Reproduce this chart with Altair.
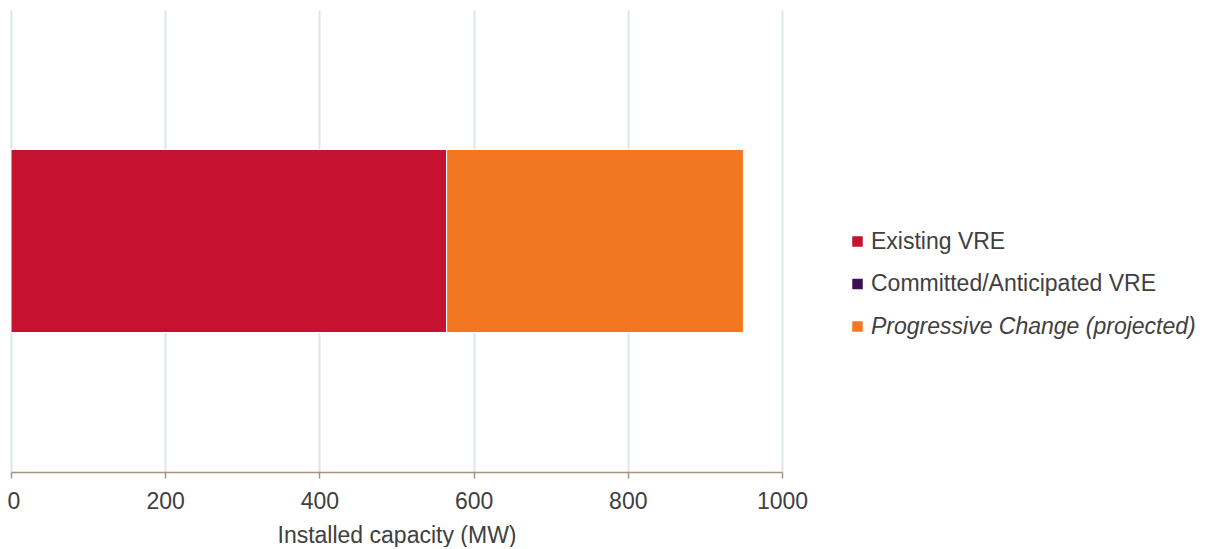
import altair as alt
import pandas as pd

categories = ["Existing VRE", "Committed/Anticipated VRE", "Progressive Change (projected)"]
values = [565, 0, 385]
colors = ["#C41230", "#3C1053", "#F37721"]
order = [0, 1, 2]
ticks = [0, 200, 400, 600, 800, 1000]

df = pd.DataFrame({"cat": categories, "mw": values, "ord": order, "row": ["a"] * 3})

chart = alt.Chart(df).mark_bar(size=183, stroke="white", strokeWidth=1).encode(
    x=alt.X("mw:Q", stack="zero",
            scale=alt.Scale(domain=[0, 1000], nice=False),
            axis=alt.Axis(values=ticks, format="d", title="Installed capacity (MW)",
                          labelFont="Liberation Sans", labelFontSize=23, labelColor="#404040",
                          titleFont="Liberation Sans", titleFontSize=23, titleColor="#404040",
                          titleFontWeight="normal", labelPadding=12, titlePadding=11,
                          domainColor="#A39382", domainWidth=1.5, tickColor="#A39382",
                          tickSize=6, tickWidth=1.5, gridColor="#DFE6E8", gridWidth=2,
                          labelFlush=False,
                          labelAlign={"expr": "datum.value == 0 ? 'left' : 'center'"},
                          labelOffset={"expr": "datum.value == 0 ? -4 : 0"})),
    y=alt.Y("row:N", axis=None),
    color=alt.Color("cat:N", scale=alt.Scale(domain=categories, range=colors),
                    legend=alt.Legend(title=None, orient="none", legendX=835, legendY=220,
                                      symbolType="square", symbolSize=110, symbolStrokeWidth=0,
                                      labelFont="Liberation Sans", labelFontSize=23,
                                      labelColor="#404040", rowPadding=18.5, labelOffset=2,
                                      labelLimit=500,
                                      labelFontStyle={"expr": "datum.index == 2 ? 'italic' : 'normal'"})),
    order=alt.Order("ord:Q"),
).properties(
    width=771, height=462,
    autosize=alt.AutoSizeParams(type="none"),
    padding={"left": 3, "top": 2, "right": 420, "bottom": 75},
).configure_view(stroke=None).configure_axis(gridDash=[])

chart.save("out.html", embed_options={"renderer": "svg", "actions": False})
